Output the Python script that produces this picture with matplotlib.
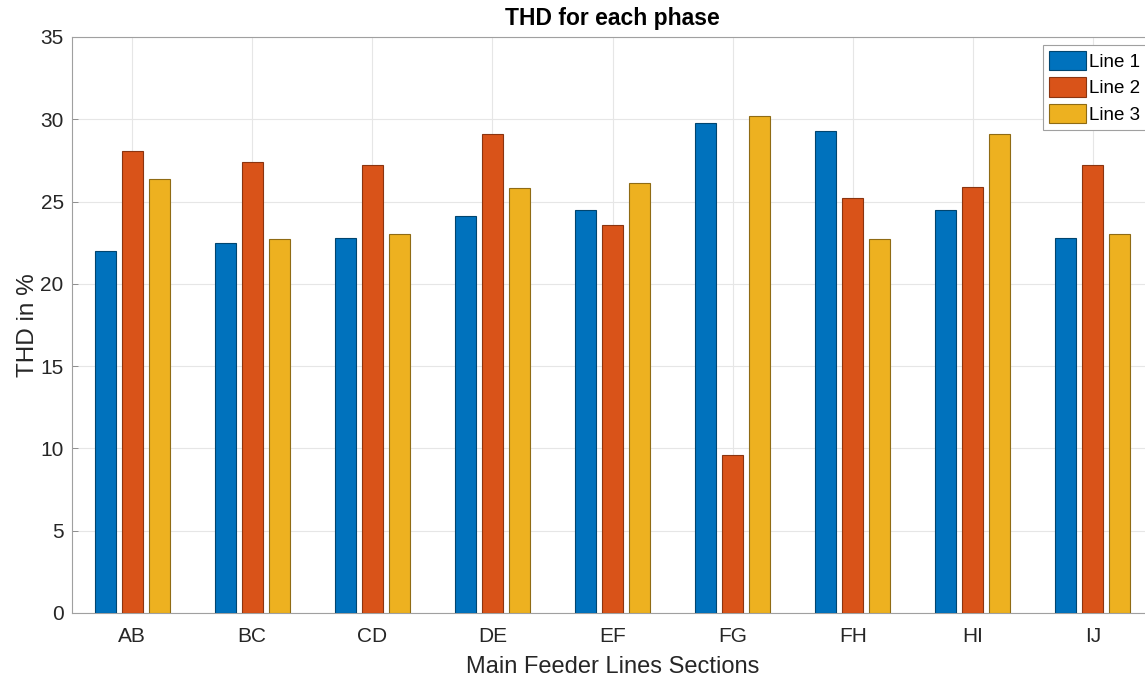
import numpy as np
import matplotlib.pyplot as plt

# THD per feeder section for the three lines
sections = ["AB", "BC", "CD", "DE", "EF", "FG", "FH", "HI", "IJ"]
line1 = [22.0, 22.5, 22.8, 24.1, 24.5, 29.8, 29.3, 24.5, 22.8]
line2 = [28.1, 27.4, 27.2, 29.1, 23.6, 9.6, 25.2, 25.9, 27.2]
line3 = [26.4, 22.7, 23.0, 25.8, 26.1, 30.2, 22.7, 29.1, 23.0]
labels = ["Line 1", "Line 2", "Line 3"]

colors = ["#0072BD", "#D95319", "#EDB120"]
edges = ["#00456f", "#8a3410", "#8f6b14"]

plt.rcParams['font.family'] = ['Liberation Sans', 'DejaVu Sans']

fig = plt.figure(figsize=(11.45, 6.82), dpi=100)
# axes run slightly past the right edge of the figure
ax = fig.add_axes([72 / 1145, 1 - 613 / 682, (1153 - 72) / 1145, (613 - 37) / 682])

x = np.arange(1, len(sections) + 1)
pitch = 0.2245
width = 0.175
for i, (vals, lab) in enumerate(zip([line1, line2, line3], labels)):
    ax.bar(x + (i - 1) * pitch, vals, width, color=colors[i],
           edgecolor=edges[i], linewidth=0.8, label=lab, zorder=3)

ax.set_xlim(0.5, 9.5)
ax.set_ylim(0, 35)
ax.set_xticks(x)
ax.set_xticklabels(sections)
ax.set_yticks(np.arange(0, 36, 5))

gray = "#262626"
ax.tick_params(direction="in", length=4, width=0.6, colors="#808080",
               labelcolor=gray, labelsize=15)
ax.tick_params(axis="x", pad=10)
ax.tick_params(axis="y", pad=6)
for s in ax.spines.values():
    s.set_color("#a0a0a0")
    s.set_linewidth(0.8)
ax.grid(True, color="#e6e6e6", linewidth=0.8, zorder=0)
ax.set_axisbelow(True)

ax.set_title("THD for each phase", fontsize=16.5, fontweight="bold", color="black", pad=8.5)
ax.set_xlabel("Main Feeder Lines Sections", fontsize=17, color=gray, labelpad=7)
ax.set_ylabel("THD in %", fontsize=17.5, color=gray, labelpad=1)

leg = ax.legend(loc="upper left", bbox_to_anchor=((1043 - 72) / (1153 - 72), (613 - 45) / 576),
                fontsize=13.5, frameon=True, fancybox=False, handlelength=2.0,
                handleheight=1.2, handletextpad=0.16, borderpad=0.3, labelspacing=0.36,
                borderaxespad=0)
leg.get_frame().set_edgecolor("#a0a0a0")
leg.get_frame().set_linewidth(0.8)
leg.get_frame().set_alpha(1)

fig.savefig("out.png", dpi=100)
